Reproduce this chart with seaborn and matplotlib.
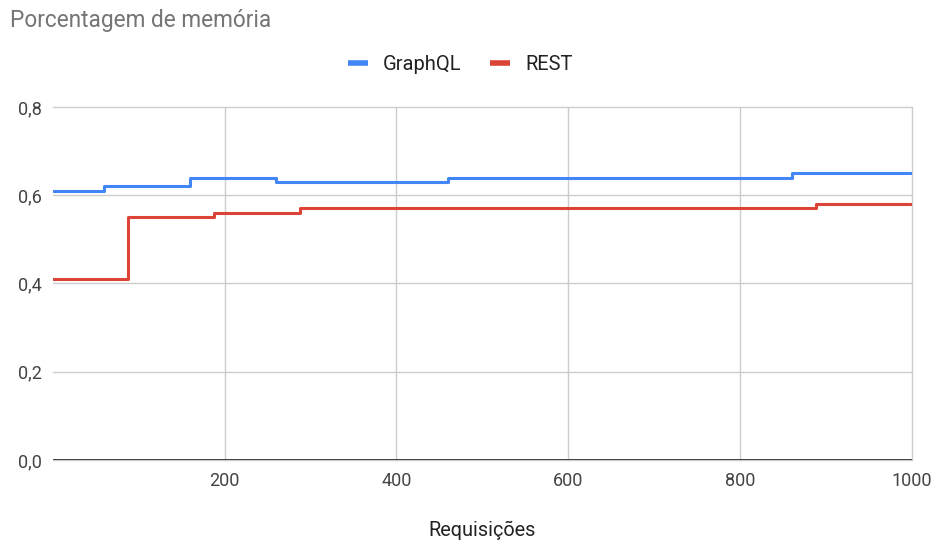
import matplotlib
matplotlib.use("Agg")
import matplotlib.pyplot as plt
import seaborn as sns
import pandas as pd
from matplotlib.ticker import FuncFormatter, FixedLocator
from matplotlib.lines import Line2D

# Data (step change points)
graphql_x = [0, 60, 160, 260, 460, 860, 1000]
graphql_y = [0.61, 0.62, 0.64, 0.63, 0.64, 0.65, 0.65]
rest_x = [0, 88, 188, 288, 888, 1000]
rest_y = [0.41, 0.55, 0.56, 0.57, 0.58, 0.58]
series_names = ["GraphQL", "REST"]
x_ticks = [200, 400, 600, 800, 1000]
y_ticks = [0.0, 0.2, 0.4, 0.6, 0.8]

df = pd.concat([
    pd.DataFrame({"Requisições": graphql_x, "Memória": graphql_y, "Série": series_names[0]}),
    pd.DataFrame({"Requisições": rest_x, "Memória": rest_y, "Série": series_names[1]}),
], ignore_index=True)

sns.set_style("white")
plt.rcParams["font.family"] = ["Roboto", "DejaVu Sans"]

fig = plt.figure(figsize=(9.37, 5.45), dpi=100)
ax = fig.add_axes([0.0562, 0.156, 0.9171, 0.6477])

palette = {"GraphQL": "#4285F4", "REST": "#DB4437"}
sns.lineplot(data=df, x="Requisições", y="Memória", hue="Série", palette=palette,
             drawstyle="steps-post", linewidth=2.2, ax=ax, legend=False)

ax.set_xlim(0, 1000)
ax.set_ylim(0, 0.8)
ax.xaxis.set_major_locator(FixedLocator(x_ticks))
ax.yaxis.set_major_locator(FixedLocator(y_ticks))
ax.yaxis.set_major_formatter(FuncFormatter(lambda v, p: f"{v:.1f}".replace(".", ",")))
ax.grid(True, color="#cccccc", linewidth=1.0)
ax.set_axisbelow(True)
for gl in ax.get_xgridlines() + ax.get_ygridlines():
    gl.set_clip_on(False)
for s in ["top", "right", "left", "bottom"]:
    ax.spines[s].set_visible(False)
ax.axhline(0, color="#333333", linewidth=1.3, zorder=1)
ax.tick_params(axis="both", length=0, labelsize=13, labelcolor="#444444")
ax.tick_params(axis="x", pad=9)
ax.tick_params(axis="y", pad=8)
ax.set_xlabel("Requisições", fontsize=14.3, color="#222222", labelpad=22)
ax.set_ylabel("")

fig.text(0.0107, 0.963, "Porcentagem de memória", fontsize=16.3, color="#757575",
         ha="left", va="center")

handles = [Line2D([0], [0], color=palette[n], linewidth=4, solid_capstyle="butt")
           for n in series_names]
fig.legend(handles, series_names, loc="center", bbox_to_anchor=(0.491, 0.881), ncol=2,
           frameon=False, fontsize=14.5, handlelength=1.0, columnspacing=1.4,
           handletextpad=0.75, labelcolor="#222222")

fig.savefig("out.png", dpi=100)
